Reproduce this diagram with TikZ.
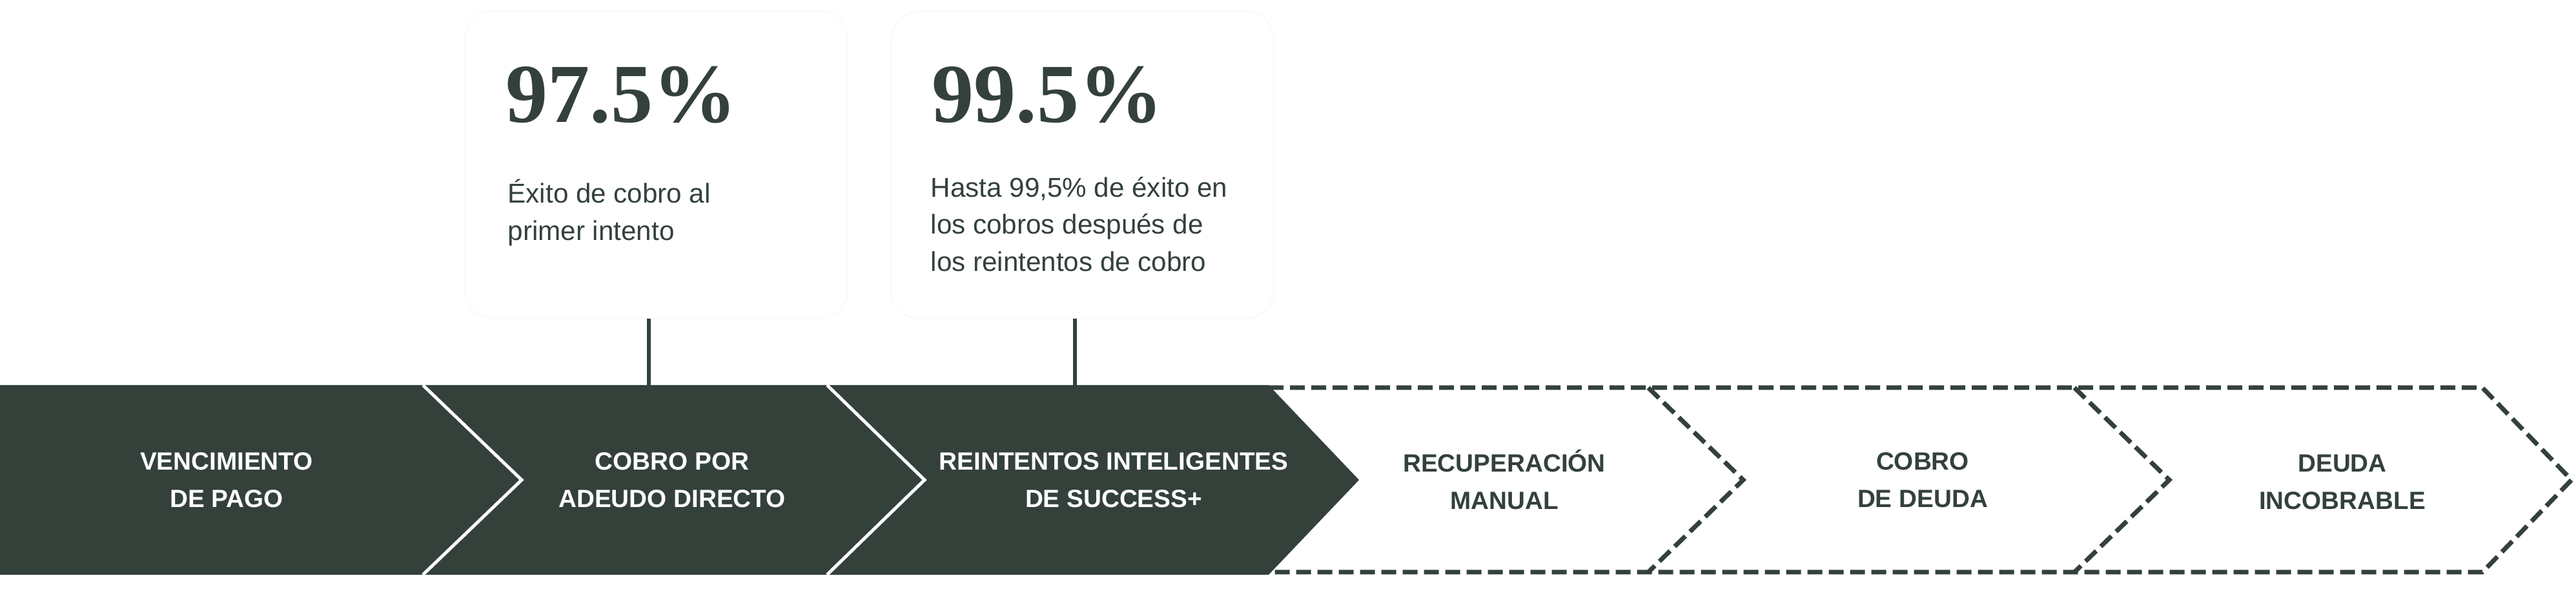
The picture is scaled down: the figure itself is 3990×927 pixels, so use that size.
\documentclass[tikz,border=0pt]{standalone}
\usepackage{fontspec}
\setmainfont{Liberation Sans}
\newfontfamily\numfont{Liberation Serif}
\definecolor{pine}{HTML}{33413A}
\begin{document}
\begin{tikzpicture}[x=0.1mm, y=0.1mm,
    card/.style={draw=black!4, line width=0.1mm, rounded corners=4.4mm, minimum width=59.3mm, minimum height=47.7mm, inner sep=0},
    figure/.style={anchor=base west, inner sep=0, text=pine, font=\numfont\bfseries\fontsize{37}{37}\selectfont},
    blurb/.style={anchor=base west, inner sep=0, align=left, text=pine, font=\fontsize{12}{16.5}\selectfont},
    stage/.style={align=center, inner sep=0, font=\bfseries\fontsize{11}{16.5}\selectfont},
    hook/.style={pine, line width=0.6mm},
    later/.style={pine, line width=0.7mm, dash pattern=on 2.3mm off 1mm}]
    \useasboundingbox (0,0) rectangle (3990,927);
    \fill[pine] (0,330) -- (1965,330) -- (2105,183) -- (1965,36) -- (0,36) -- cycle;
    \draw[white, line width=0.5mm] (655,330) -- (808,183) -- (655,36);
    \draw[white, line width=0.5mm] (1281,330) -- (1432,183) -- (1281,36);
    \draw[later] (1965,326) -- (3845,326) -- (3983,183) -- (3845,40) -- (1965,40);
    \draw[later] (2553,326) -- (2700,183) -- (2553,40);
    \draw[later] (3213,326) -- (3360,183) -- (3213,40);
    \node[card] (card1) at (1016.5,671.5) {};
    \node[card] (card2) at (1676.5,671.5) {};
    \node[figure] (first) at (783,737) {97.5\%};
    \node[blurb] (firsttxt) at (786,554) {Éxito de cobro al\\primer intento};
    \node[figure] (retries) at (1443,737) {99.5\%};
    \node[blurb] (retriestxt) at (1441,506) {Hasta 99,5\% de éxito en\\los cobros después de\\los reintentos de cobro};
    \node[stage, text=white] (due) at (351,183) {VENCIMIENTO\\DE PAGO};
    \node[stage, text=white] (debit) at (1041,183) {COBRO POR\\ADEUDO DIRECTO};
    \node[stage, text=white] (retry) at (1725,183) {REINTENTOS INTELIGENTES\\DE SUCCESS+};
    \node[stage, text=pine] (manual) at (2330,183) {RECUPERACIÓN\\MANUAL};
    \node[stage, text=pine] (collect) at (2978,183) {COBRO\\DE DEUDA};
    \node[stage, text=pine] (baddebt) at (3628,180) {DEUDA\\INCOBRABLE};
    \coordinate (hook1) at (1005,330);
    \coordinate (hook2) at (1665,330);
    \draw[hook] (card1.south -| hook1) -- (hook1);
    \draw[hook] (card2.south -| hook2) -- (hook2);
\end{tikzpicture}
\end{document}
